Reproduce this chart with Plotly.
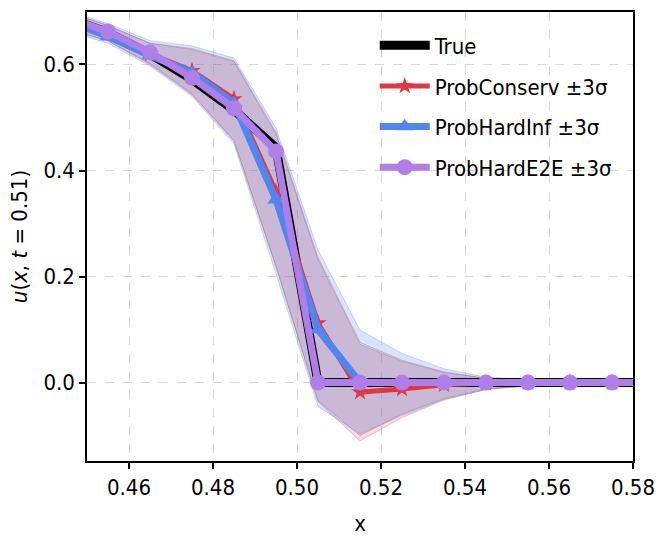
import plotly.graph_objects as go

# Spatial grid (cell centres) around the shock front
x_grid = [0.445, 0.455, 0.465, 0.475, 0.485, 0.495, 0.505, 0.515,
          0.525, 0.535, 0.545, 0.555, 0.565, 0.575, 0.585]

# Reference solution u(x, t=0.51)
u_true = [0.689, 0.660, 0.620, 0.572, 0.514, 0.443, 0.0, 0.0,
          0.0, 0.0, 0.0, 0.0, 0.0, 0.0, 0.0]

# ProbConserv: mean and ±3σ bounds
conserv_mean = [0.686, 0.658, 0.620, 0.588, 0.535, 0.360, 0.112, -0.018,
                -0.012, -0.004, -0.001, 0.0, 0.0, 0.0, 0.0]
conserv_hi = [0.700, 0.673, 0.640, 0.628, 0.605, 0.468, 0.232, 0.072,
              0.040, 0.019, 0.008, 0.005, 0.004, 0.004, 0.004]
conserv_lo = [0.667, 0.644, 0.600, 0.543, 0.455, 0.218, -0.036, -0.110,
              -0.066, -0.033, -0.013, -0.006, -0.005, -0.005, -0.005]

# ProbHardInf: mean and ±3σ bounds
hardinf_mean = [0.684, 0.653, 0.617, 0.585, 0.527, 0.345, 0.100, 0.0,
                0.0, 0.0, 0.0, 0.0, 0.0, 0.0, 0.0]
hardinf_hi = [0.703, 0.677, 0.645, 0.635, 0.612, 0.480, 0.250, 0.099,
              0.055, 0.026, 0.010, 0.006, 0.005, 0.005, 0.005]
hardinf_lo = [0.664, 0.640, 0.597, 0.540, 0.450, 0.205, -0.045, -0.097,
              -0.062, -0.032, -0.013, -0.007, -0.006, -0.006, -0.006]

# ProbHardE2E: mean and ±3σ bounds
e2e_mean = [0.690, 0.662, 0.623, 0.575, 0.517, 0.436, 0.0, 0.0,
            0.0, 0.0, 0.0, 0.0, 0.0, 0.0, 0.0]
e2e_hi = [0.700, 0.674, 0.640, 0.630, 0.607, 0.472, 0.236, 0.076,
          0.042, 0.020, 0.008, 0.005, 0.004, 0.004, 0.004]
e2e_lo = [0.668, 0.645, 0.602, 0.545, 0.457, 0.220, -0.034, -0.100,
          -0.059, -0.030, -0.012, -0.006, -0.005, -0.005, -0.005]

x_ticks = [0.46, 0.48, 0.50, 0.52, 0.54, 0.56, 0.58]
y_ticks = [0.0, 0.2, 0.4, 0.6]

FONT = "DejaVu Sans Condensed, DejaVu Sans, sans-serif"

methods = [
    # name, mean, lo, hi, line colour, band fill, band edge, symbol, size, width
    ("ProbConserv ±3σ", conserv_mean, conserv_lo, conserv_hi, "#E3373F",
     "rgba(227,55,63,0.18)", "rgba(227,55,63,0.30)", "star", 13, 5),
    ("ProbHardInf ±3σ", hardinf_mean, hardinf_lo, hardinf_hi, "#4F86F2",
     "rgba(79,134,242,0.22)", "rgba(79,134,242,0.30)", "triangle-up", 15, 7),
    ("ProbHardE2E ±3σ", e2e_mean, e2e_lo, e2e_hi, "#B07EE8",
     "rgba(150,115,160,0.16)", "rgba(140,95,150,0.35)", "circle", 16, 7),
]

fig = go.Figure()

# Uncertainty bands (closed polygons: upper bound forward, lower bound back)
for name, mean, lo, hi, col, fill, edge, sym, size, width in methods:
    fig.add_trace(go.Scatter(
        x=x_grid + x_grid[::-1],
        y=hi + lo[::-1],
        mode="lines",
        fill="toself",
        fillcolor=fill,
        line=dict(color=edge, width=1),
        hoverinfo="skip",
        showlegend=False,
    ))

# Reference solution
fig.add_trace(go.Scatter(
    x=x_grid, y=u_true, mode="lines", name="True",
    line=dict(color="black", width=9),
    legendgroup="true",
))

# Predicted means
for name, mean, lo, hi, col, fill, edge, sym, size, width in methods:
    fig.add_trace(go.Scatter(
        x=x_grid, y=mean, mode="lines+markers", name=name,
        line=dict(color=col, width=width),
        marker=dict(symbol=sym, size=size, color=col, line=dict(width=0)),
        legendgroup=name,
    ))

axis_common = dict(
    showline=True, linecolor="black", linewidth=1.5, mirror=True,
    ticks="outside", ticklen=6, tickwidth=1.5, tickcolor="black",
    showgrid=True, gridcolor="#d8d8d8", gridwidth=1.2, griddash="dash",
    zeroline=False, automargin=False,
    tickfont=dict(family=FONT, size=22, color="black"),
)

fig.update_xaxes(
    range=[0.45, 0.58],
    tickvals=x_ticks,
    ticktext=[f"{v:.2f}" for v in x_ticks],
    title=dict(text="x", font=dict(family=FONT, size=22, color="black"), standoff=16),
    **axis_common,
)
fig.update_yaxes(
    range=[-0.148, 0.699],
    tickvals=y_ticks,
    ticktext=[f"{v:.1f}" for v in y_ticks],
    title=dict(text="<i>u</i>(<i>x</i>, <i>t</i> = 0.51)",
               font=dict(family=FONT, size=22, color="black"), standoff=10),
    **axis_common,
)

fig.update_layout(
    width=661, height=540,
    margin=dict(l=87, r=28, t=12, b=79),
    paper_bgcolor="white", plot_bgcolor="white",
    font=dict(family=FONT, size=22, color="black"),
    legend=dict(
        x=0.527, y=0.972, xanchor="left", yanchor="top",
        bgcolor="rgba(0,0,0,0)", borderwidth=0,
        font=dict(family=FONT, size=22, color="black"),
        itemwidth=50, tracegroupgap=9,
    ),
)

fig.write_html("out.html")
